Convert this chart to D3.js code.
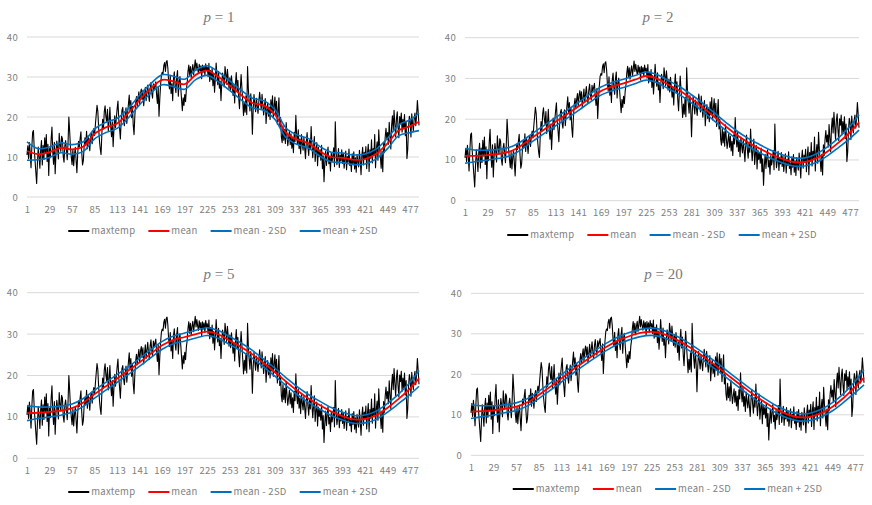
<!DOCTYPE html>
<html>
<head>
<meta charset="utf-8">
<script src="https://cdn.jsdelivr.net/npm/d3@7/dist/d3.min.js"></script>
<style>
  body { margin: 0; background: #fff; }
  svg { display: block; }
  .tick text { fill: #808080; font-family: "Noto Sans CJK JP", "Noto Sans", sans-serif; font-size: 9.5px; letter-spacing: 0.3px; }
  .legend text { fill: #808080; font-family: "Noto Sans CJK JP", "Noto Sans", sans-serif; font-size: 9.5px; letter-spacing: 0.3px; }
  .title { fill: #7a7a7a; font-family: "Liberation Serif", "DejaVu Serif", serif; font-size: 15px; }
</style>
</head>
<body>
<svg id="chart" width="872" height="505"></svg>
<script>
// daily maximum temperature, 488 days (28 per row)
const maxtemp = [
  10.5, 12.8, 9.6, 13.6, 11.2, 7.3, 12.4, 16.2, 16.6, 12.0, 9.1, 6.2, 3.4, 8.7, 12.5, 10.1, 7.2, 11.8, 14.1, 8.0, 12.9, 9.4, 14.8, 11.0, 15.6, 8.9, 13.2, 5.4,
  12.1, 9.8, 14.5, 17.5, 11.3, 8.2, 13.7, 5.8, 10.9, 14.0, 12.2, 9.5, 15.9, 13.1, 11.4, 15.2, 14.6, 10.2, 8.7, 12.8, 14.1, 11.7, 9.3, 13.6, 20.0, 16.4, 12.3, 10.1,
  8.1, 11.9, 7.8, 10.6, 12.4, 9.2, 6.1, 10.8, 13.9, 12.5, 14.6, 16.3, 11.2, 8.0, 9.1, 12.7, 14.8, 13.0, 16.4, 12.1, 15.3, 13.8, 11.6, 14.9, 16.0, 13.3, 15.8, 17.1,
  15.4, 18.2, 20.6, 22.9, 21.4, 17.3, 14.1, 12.0, 10.6, 15.8, 19.4, 17.0, 21.3, 22.8, 20.1, 18.7, 21.9, 16.5, 19.0, 22.4, 17.6, 15.1, 18.8, 12.6, 16.9, 20.3, 17.4, 19.8,
  22.1, 24.0, 19.5, 17.2, 14.5, 18.9, 21.7, 22.4, 19.1, 17.8, 20.6, 22.3, 18.4, 21.0, 23.2, 25.5, 21.6, 24.1, 19.8, 22.7, 17.9, 15.6, 20.4, 23.5, 25.1, 22.6, 24.8, 26.3,
  23.2, 25.9, 27.0, 24.4, 26.7, 22.8, 25.3, 27.4, 24.1, 26.2, 28.0, 25.5, 23.9, 27.1, 28.6, 26.0, 24.7, 28.3, 26.9, 27.8, 28.8, 25.6, 23.4, 27.5, 20.2, 24.6, 28.1, 30.5,
  31.2, 30.8, 32.9, 33.6, 31.4, 33.8, 34.1, 32.2, 28.7, 27.0, 30.4, 25.9, 28.3, 24.1, 29.6, 31.3, 27.7, 26.1, 29.9, 31.6, 25.2, 28.8, 30.1, 27.4, 24.4, 21.6, 24.8, 22.9,
  25.6, 23.8, 26.9, 28.5, 31.4, 33.0, 30.2, 32.6, 29.8, 31.9, 33.1, 30.6, 32.4, 34.3, 31.7, 33.5, 32.0, 30.9, 33.2, 31.5, 32.8, 29.6, 33.0, 31.2, 32.7, 30.4, 33.3, 31.8,
  32.5, 30.1, 33.4, 28.9, 31.6, 29.3, 32.2, 27.8, 30.7, 26.2, 29.5, 33.5, 30.3, 28.1, 31.4, 27.2, 29.0, 24.1, 28.6, 31.0, 29.7, 27.5, 32.6, 30.8, 28.2, 31.9, 29.4, 27.1,
  29.8, 26.7, 30.3, 28.0, 25.4, 27.9, 23.5, 28.4, 31.1, 26.5, 29.2, 24.8, 22.1, 26.8, 30.6, 27.3, 24.0, 20.4, 23.7, 21.2, 25.3, 20.6, 32.6, 27.0, 23.9, 21.5, 25.8, 22.6,
  15.7, 22.0, 25.6, 23.4, 21.3, 24.7, 22.8, 20.9, 23.8, 26.2, 24.1, 21.8, 25.7, 23.0, 20.5, 22.9, 24.6, 18.4, 21.7, 23.6, 20.2, 22.5, 19.4, 24.3, 21.1, 25.3, 19.8, 22.7,
  25.0, 20.6, 23.9, 18.2, 21.5, 24.8, 17.6, 19.9, 15.1, 13.6, 17.8, 14.2, 16.9, 13.4, 18.6, 15.3, 12.8, 14.7, 16.4, 13.1, 15.8, 12.2, 14.6, 11.1, 16.2, 13.9, 20.4, 15.5,
  13.2, 16.8, 12.1, 14.5, 10.8, 15.6, 13.4, 11.7, 14.9, 12.3, 9.6, 13.8, 16.1, 12.6, 10.4, 14.2, 11.9, 17.6, 13.0, 9.8, 12.7, 15.1, 8.9, 11.5, 13.6, 7.8, 12.4, 10.1,
  11.8, 9.2, 12.9, 7.1, 10.3, 3.8, 8.6, 11.4, 7.9, 10.7, 12.5, 8.3, 9.9, 6.5, 11.1, 8.8, 10.2, 12.3, 7.6, 18.8, 11.6, 8.1, 9.7, 12.1, 7.4, 10.5, 9.0, 11.8,
  8.4, 10.9, 7.2, 9.6, 11.5, 6.8, 10.1, 8.7, 12.0, 7.9, 9.3, 6.4, 10.8, 8.2, 11.3, 7.0, 9.8, 6.2, 10.6, 8.9, 7.5, 11.7, 9.1, 5.6, 10.3, 12.4, 8.0, 11.2,
  9.5, 12.6, 7.1, 10.9, 13.2, 6.4, 11.8, 9.7, 14.3, 8.5, 12.1, 10.4, 15.6, 7.3, 11.9, 13.8, 9.2, 16.8, 12.5, 10.1, 7.2, 11.4, 6.3, 13.7, 11.1, 15.0, 17.2, 14.4,
  16.1, 13.2, 18.7, 15.4, 12.0, 17.9, 20.3, 16.6, 21.7, 18.2, 15.0, 19.6, 21.3, 17.4, 14.8, 20.1, 18.5, 21.0, 16.2, 19.4, 17.0, 20.6, 15.3, 18.8, 9.6, 11.9, 17.5, 20.2,
  19.1, 15.0, 20.8, 18.3, 16.6, 19.7, 21.0, 17.8, 20.4, 24.1, 21.2, 17.9
]

// days at which the smooth curves were read
const curveDays = [1, 15, 29, 43, 57, 71, 85, 99, 113, 127, 141, 155, 169, 183, 197, 211, 225, 239,
  253, 267, 281, 295, 309, 323, 337, 351, 365, 379, 393, 407, 421, 435, 449, 463, 477, 488]

const p1Mean = [11.5, 10.7, 11.2, 12.3, 11.9, 12.6, 15.8, 17.4, 18.4, 21.0, 24.3, 27.2, 29.3, 28.9, 28.2, 30.6, 31.6, 30.0,
  27.8, 25.5, 23.5, 22.9, 20.6, 16.0, 14.3, 13.4, 11.4, 10.0, 9.8, 9.3, 9.5, 10.8, 13.4, 16.7, 17.7, 18.8]
const p1Sd2 = [2.3, 1.4, 1.3, 1.25, 1.2, 1.2, 1.25, 1.3, 1.25, 1.2, 1.2, 1.2, 1.25, 1.3, 1.25, 1.2, 1.2, 1.2,
  1.2, 1.2, 1.2, 1.2, 1.2, 1.2, 1.2, 1.2, 1.2, 1.2, 1.2, 1.2, 1.25, 1.25, 1.3, 1.35, 1.6, 2.2]

const p2Mean = [11.0, 11.0, 11.2, 11.5, 12.1, 13.6, 15.6, 17.5, 19.4, 21.2, 23.1, 25.1, 26.9, 28.0, 28.8, 29.7, 30.6, 29.9,
  28.4, 26.9, 25.0, 22.9, 20.6, 18.3, 16.1, 14.3, 12.8, 11.4, 10.3, 9.5, 9.5, 10.4, 12.1, 14.3, 16.8, 19.2]
const p2Sd2 = [1.8, 1.4, 1.2, 1.1, 1.05, 1.0, 1.0, 1.0, 1.0, 1.0, 1.0, 1.0, 1.0, 1.0, 1.0, 1.0, 1.0, 1.0,
  1.0, 1.0, 1.0, 1.0, 1.0, 1.0, 1.0, 1.0, 1.0, 1.0, 1.0, 1.0, 1.0, 1.05, 1.1, 1.2, 1.5, 1.9]

const p5Mean = [10.9, 11.0, 11.2, 11.5, 12.1, 13.5, 15.5, 17.4, 19.3, 21.2, 23.2, 25.3, 27.3, 28.6, 29.3, 30.0, 30.6, 29.9,
  28.4, 26.9, 25.1, 23.0, 20.8, 18.5, 16.3, 14.4, 12.8, 11.3, 10.2, 9.4, 9.5, 10.4, 12.2, 14.4, 16.9, 19.3]
const p5Sd2 = [1.8, 1.4, 1.2, 1.1, 1.0, 0.95, 0.95, 0.95, 0.95, 0.95, 0.95, 0.95, 0.95, 0.95, 0.95, 0.95, 0.95, 0.95,
  0.95, 0.95, 0.95, 0.95, 0.95, 0.95, 0.95, 0.95, 0.95, 0.95, 0.95, 0.95, 0.95, 1.0, 1.05, 1.15, 1.45, 1.9]

const p20Mean = [10.8, 10.9, 11.1, 11.5, 12.0, 13.1, 14.9, 16.9, 19.0, 21.1, 23.1, 25.0, 26.8, 28.3, 29.4, 30.2, 30.5, 30.0,
  28.8, 27.3, 25.5, 23.5, 21.4, 19.2, 17.1, 15.0, 13.1, 11.4, 10.1, 9.4, 9.5, 10.4, 12.0, 14.2, 16.9, 19.2]
const p20Sd2 = [1.7, 1.35, 1.15, 1.0, 0.95, 0.9, 0.9, 0.9, 0.9, 0.9, 0.9, 0.9, 0.9, 0.9, 0.9, 0.9, 0.9, 0.9,
  0.9, 0.9, 0.9, 0.9, 0.9, 0.9, 0.9, 0.9, 0.9, 0.9, 0.9, 0.9, 0.9, 0.95, 1.0, 1.1, 1.4, 1.8]

const xTicks = d3.range(1, 478, 28)   // 1, 29, 57 ... 477
const yTicks = [0, 10, 20, 30, 40]
const legendNames = ["maxtemp", "mean", "mean - 2SD", "mean + 2SD"]
const colors = { maxtemp: "#000000", mean: "#FF0000", band: "#0070C0" }

const panels = [
  { p: "1",  mean: p1Mean,  sd2: p1Sd2,  x0: 27,  x1: 419, y40: 37,    y0: 197,   titleY: 22,  tickY: 210, legendY: 231 },
  { p: "2",  mean: p2Mean,  sd2: p2Sd2,  x0: 465, x1: 859, y40: 37.7,  y0: 200.7, titleY: 22,  tickY: 213, legendY: 235 },
  { p: "5",  mean: p5Mean,  sd2: p5Sd2,  x0: 27,  x1: 419, y40: 292.7, y0: 458.3, titleY: 279, tickY: 471, legendY: 492 },
  { p: "20", mean: p20Mean, sd2: p20Sd2, x0: 471, x1: 864, y40: 293.3, y0: 455.3, titleY: 279, tickY: 468, legendY: 489 }
]

const svg = d3.select("#chart")

function drawPanel(cfg) {
  const g = svg.append("g")
  const x = d3.scaleLinear().domain([1, maxtemp.length]).range([cfg.x0, cfg.x1])
  const y = d3.scaleLinear().domain([0, 40]).range([cfg.y0, cfg.y40])

  // title
  const title = g.append("text")
    .attr("class", "title")
    .attr("x", (cfg.x0 + cfg.x1) / 2 - 4)
    .attr("y", cfg.titleY)
    .attr("text-anchor", "middle")
  title.append("tspan").attr("font-style", "italic").text("p")
  title.append("tspan").text(" = " + cfg.p)

  // gridlines
  g.append("g").selectAll("line")
    .data(yTicks)
    .enter()
    .append("line")
    .attr("x1", cfg.x0)
    .attr("x2", cfg.x1)
    .attr("y1", d => y(d))
    .attr("y2", d => y(d))
    .attr("stroke", "#D9D9D9")
    .attr("stroke-width", 1)

  // axes (labels only)
  const yAxis = g.append("g")
    .attr("transform", `translate(${cfg.x0 - 9}, 0)`)
    .call(d3.axisLeft(y).tickValues(yTicks).tickSize(0).tickPadding(0))
  yAxis.select(".domain").remove()

  const xAxis = g.append("g")
    .attr("transform", `translate(0, ${cfg.tickY - 7})`)
    .call(d3.axisBottom(x).tickValues(xTicks).tickSize(0).tickPadding(3))
  xAxis.select(".domain").remove()

  // series
  const rawLine = d3.line()
    .x((d, i) => x(i + 1))
    .y(d => y(d))
  const smoothLine = d3.line()
    .x(d => x(d[0]))
    .y(d => y(d[1]))
    .curve(d3.curveCatmullRom)

  const meanPts = curveDays.map((d, i) => [d, cfg.mean[i]])
  const loPts = curveDays.map((d, i) => [d, cfg.mean[i] - cfg.sd2[i]])
  const hiPts = curveDays.map((d, i) => [d, cfg.mean[i] + cfg.sd2[i]])

  g.append("path")
    .attr("d", rawLine(maxtemp))
    .attr("fill", "none")
    .attr("stroke", colors.maxtemp)
    .attr("stroke-width", 1.1)
    .attr("stroke-linejoin", "round")

  g.append("path")
    .attr("d", smoothLine(meanPts))
    .attr("fill", "none")
    .attr("stroke", colors.mean)
    .attr("stroke-width", 1.8)

  ;[loPts, hiPts].forEach(pts => {
    g.append("path")
      .attr("d", smoothLine(pts))
      .attr("fill", "none")
      .attr("stroke", colors.band)
      .attr("stroke-width", 1.6)
  })

  // legend, centred under the plot
  const legend = g.append("g").attr("class", "legend")
  const items = legend.selectAll("g")
    .data(legendNames)
    .enter()
    .append("g")
  items.append("line")
    .attr("x1", 0).attr("x2", 21)
    .attr("y1", 0).attr("y2", 0)
    .attr("stroke", (d, i) => i === 0 ? colors.maxtemp : i === 1 ? colors.mean : colors.band)
    .attr("stroke-width", 2)
  items.append("text")
    .attr("x", 23)
    .attr("dy", "0.35em")
    .text(d => d)
  let offset = 0
  const starts = []
  items.each(function () {
    const w = 23 + this.querySelector("text").getComputedTextLength()
    starts.push(offset)
    offset += w + 13
  })
  const total = offset - 13
  const left = (cfg.x0 + cfg.x1) / 2 - total / 2
  items.attr("transform", (d, i) => `translate(${left + starts[i]}, ${cfg.legendY})`)
}

panels.forEach(drawPanel)
</script>
</body>
</html>
